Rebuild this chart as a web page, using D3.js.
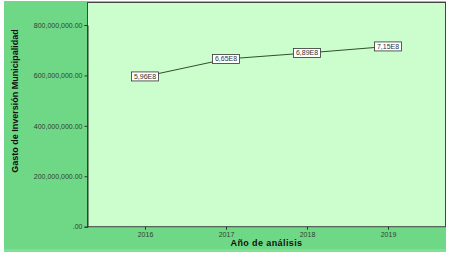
<!DOCTYPE html>
<html><head><meta charset="utf-8">
<script src="https://cdn.jsdelivr.net/npm/d3@7"></script>
<style>html,body{margin:0;padding:0;background:#fff;}svg{display:block;}</style>
</head><body>
<script>
const years = [2016, 2017, 2018, 2019];
const values = [596000000, 665000000, 689000000, 715000000];
const labels = ["5,96E8", "6,65E8", "6,89E8", "7,15E8"];
const yTicks = [0, 200000000, 400000000, 600000000, 800000000];

const W = 451, H = 257;
const svg = d3.select("body").append("svg").attr("width", W).attr("height", H);
svg.append("rect").attr("x", 4).attr("y", 1).attr("width", 442).attr("height", 251).attr("fill", "#6fd886");
svg.append("rect").attr("x", 4).attr("y", 249).attr("width", 442).attr("height", 3).attr("fill", "#80de95");

const m = {l: 87.5, r: 445.5, t: 2.5, b: 226.7};
svg.append("rect").attr("x", m.l).attr("y", m.t).attr("width", m.r - m.l).attr("height", m.b - m.t)
  .attr("fill", "#ccfdcc").attr("stroke", "#444").attr("stroke-width", 1);

const x = d3.scalePoint().domain(years).range([m.l, m.r]).padding(0.71);
const y = d3.scaleLinear().domain([0, 800000000]).range([m.b, 25]);

const fmt = d => d === 0 ? ".00" : d3.format(",.2f")(d);
const ya = svg.append("g").attr("transform", `translate(${m.l},0)`)
  .call(d3.axisLeft(y).tickValues(yTicks).tickFormat(fmt).tickSize(3).tickPadding(2));
ya.select(".domain").attr("stroke", "#2a3a2a");
ya.selectAll("line").attr("stroke", "#2a3a2a");
ya.selectAll("text").attr("font-family", "Arial, Liberation Sans, sans-serif").attr("font-size", 7).attr("fill", "#2f3f2f");

const xa = svg.append("g").attr("transform", `translate(0,${m.b})`)
  .call(d3.axisBottom(x).tickSize(3).tickPadding(2));
xa.select(".domain").remove();
xa.selectAll("line").attr("stroke", "#2a3a2a");
xa.selectAll("text").attr("font-family", "Arial, Liberation Sans, sans-serif").attr("font-size", 7).attr("fill", "#2f3f2f");

const line = d3.line().x((d, i) => x(years[i])).y(d => y(d));
svg.append("path").datum(values).attr("d", line).attr("fill", "none").attr("stroke", "#2f4f2f").attr("stroke-width", 1);

const g = svg.append("g").selectAll("g").data(values).join("g")
  .attr("transform", (d, i) => `translate(${x(years[i])},${y(d)})`);
g.append("rect").attr("x", -13.5).attr("y", -4.5).attr("width", 27).attr("height", 9)
  .attr("fill", "#fff").attr("stroke", "#333").attr("stroke-width", 0.8);
g.append("text").text((d, i) => labels[i]).attr("text-anchor", "middle").attr("dy", "0.35em")
  .attr("font-family", "Arial, Liberation Sans, sans-serif").attr("font-size", 7).attr("fill", "#333");

svg.append("text").text("Año de análisis").attr("x", (m.l + m.r) / 2).attr("y", 246)
  .attr("text-anchor", "middle").attr("font-family", "Arial, Liberation Sans, sans-serif")
  .attr("font-weight", "bold").attr("font-size", 9).attr("fill", "#111").attr("letter-spacing", 0.4);

svg.append("text").text("Gasto de Inversión Municipalidad")
  .attr("transform", `translate(18,101) rotate(-90)`)
  .attr("text-anchor", "middle").attr("font-family", "Arial, Liberation Sans, sans-serif")
  .attr("font-weight", "bold").attr("font-size", 9).attr("fill", "#111");
</script>
</body></html>
